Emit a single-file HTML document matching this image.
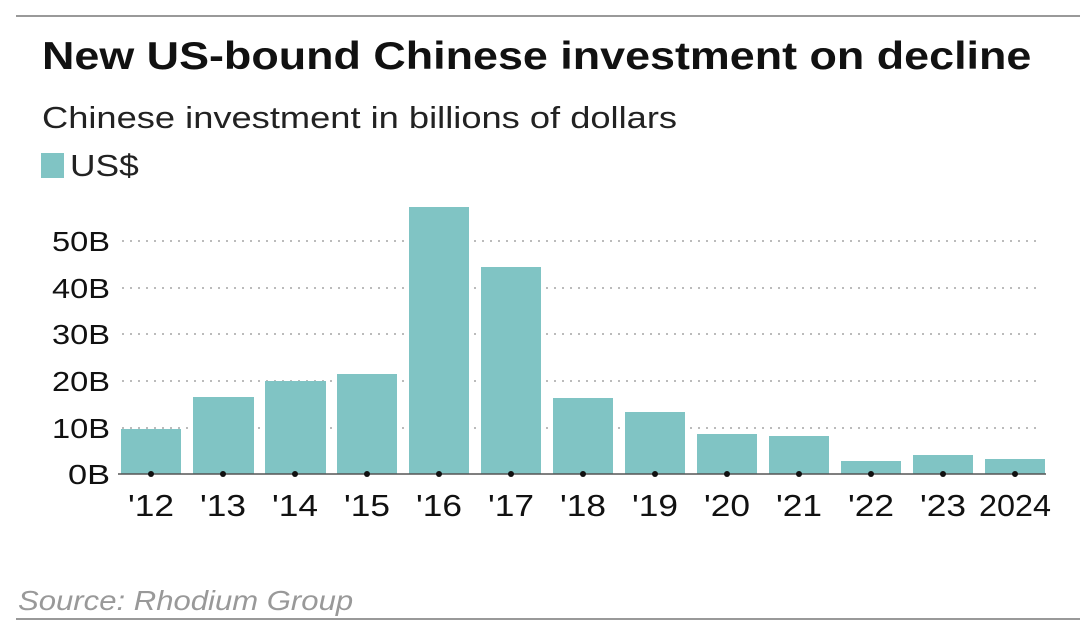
<!DOCTYPE html>
<html><head><meta charset="utf-8"><style>
body{margin:0;width:1080px;height:631px;background:#fff;overflow:hidden;font-family:"Liberation Sans",sans-serif;position:relative}
.a{position:absolute;white-space:nowrap;transform-origin:0 0}
</style></head><body>
<div class="a" style="left:16px;top:15px;width:1064px;height:2px;background:#999"></div>
<div class="a" style="left:42px;top:35px;font-size:39px;font-weight:bold;color:#111;transform:scaleX(1.15)">New US-bound Chinese investment on decline</div>
<div class="a" style="left:42px;top:100px;font-size:31px;color:#222;transform:scaleX(1.17)">Chinese investment in billions of dollars</div>
<div class="a" style="left:41px;top:153px;width:23px;height:25px;background:#80c4c4"></div>
<div class="a" style="left:70px;top:148px;font-size:31px;color:#222;transform:scaleX(1.14)">US$</div>
<div class="a" style="left:18px;top:585px;font-size:28px;font-style:italic;color:#999;transform:scaleX(1.11)">Source: Rhodium Group</div>
<div class="a" style="left:16px;top:618px;width:1064px;height:2px;background:#999"></div>
<svg class="a" style="left:0;top:0" width="1080" height="631" font-family="Liberation Sans, sans-serif">
<g stroke="#bbb" stroke-width="2" stroke-dasharray="2 6">
<line x1="122" x2="1042" y1="241" y2="241"/><line x1="122" x2="1042" y1="288" y2="288"/><line x1="122" x2="1042" y1="334" y2="334"/><line x1="122" x2="1042" y1="381" y2="381"/><line x1="122" x2="1042" y1="428" y2="428"/>
</g>
<g fill="#80c4c4">
<rect x="121" y="429" width="60" height="45"/><rect x="193" y="397" width="61" height="77"/><rect x="265" y="381" width="61" height="93"/><rect x="337" y="374" width="60" height="100"/><rect x="409" y="207" width="60" height="267"/><rect x="481" y="267" width="60" height="207"/><rect x="553" y="398" width="60" height="76"/><rect x="625" y="412" width="60" height="62"/><rect x="697" y="434" width="60" height="40"/><rect x="769" y="436" width="60" height="38"/><rect x="841" y="461" width="60" height="13"/><rect x="913" y="455" width="60" height="19"/><rect x="985" y="459" width="60" height="15"/>
</g>
<line x1="118" x2="1046" y1="474" y2="474" stroke="#555" stroke-width="1.5"/>
<g fill="#111">
<circle cx="151" cy="474" r="3"/><circle cx="223" cy="474" r="3"/><circle cx="295" cy="474" r="3"/><circle cx="367" cy="474" r="3"/><circle cx="439" cy="474" r="3"/><circle cx="511" cy="474" r="3"/><circle cx="583" cy="474" r="3"/><circle cx="655" cy="474" r="3"/><circle cx="727" cy="474" r="3"/><circle cx="799" cy="474" r="3"/><circle cx="871" cy="474" r="3"/><circle cx="943" cy="474" r="3"/><circle cx="1015" cy="474" r="3"/>
</g>
<g font-size="28" fill="#111" text-anchor="end" lengthAdjust="spacingAndGlyphs">
<text x="110" y="251" textLength="58" lengthAdjust="spacingAndGlyphs">50B</text><text x="110" y="298" textLength="58" lengthAdjust="spacingAndGlyphs">40B</text><text x="110" y="344" textLength="58" lengthAdjust="spacingAndGlyphs">30B</text><text x="110" y="391" textLength="58" lengthAdjust="spacingAndGlyphs">20B</text><text x="110" y="438" textLength="58" lengthAdjust="spacingAndGlyphs">10B</text><text x="110" y="484" textLength="42" lengthAdjust="spacingAndGlyphs">0B</text>
</g>
<g font-size="31" fill="#111" text-anchor="middle">
<text x="151" y="516" textLength="46" lengthAdjust="spacingAndGlyphs">'12</text><text x="223" y="516" textLength="46" lengthAdjust="spacingAndGlyphs">'13</text><text x="295" y="516" textLength="46" lengthAdjust="spacingAndGlyphs">'14</text><text x="367" y="516" textLength="46" lengthAdjust="spacingAndGlyphs">'15</text><text x="439" y="516" textLength="46" lengthAdjust="spacingAndGlyphs">'16</text><text x="511" y="516" textLength="46" lengthAdjust="spacingAndGlyphs">'17</text><text x="583" y="516" textLength="46" lengthAdjust="spacingAndGlyphs">'18</text><text x="655" y="516" textLength="46" lengthAdjust="spacingAndGlyphs">'19</text><text x="727" y="516" textLength="46" lengthAdjust="spacingAndGlyphs">'20</text><text x="799" y="516" textLength="46" lengthAdjust="spacingAndGlyphs">'21</text><text x="871" y="516" textLength="46" lengthAdjust="spacingAndGlyphs">'22</text><text x="943" y="516" textLength="46" lengthAdjust="spacingAndGlyphs">'23</text><text x="1015" y="516" textLength="72" lengthAdjust="spacingAndGlyphs">2024</text>
</g>
</svg>
</body></html>
